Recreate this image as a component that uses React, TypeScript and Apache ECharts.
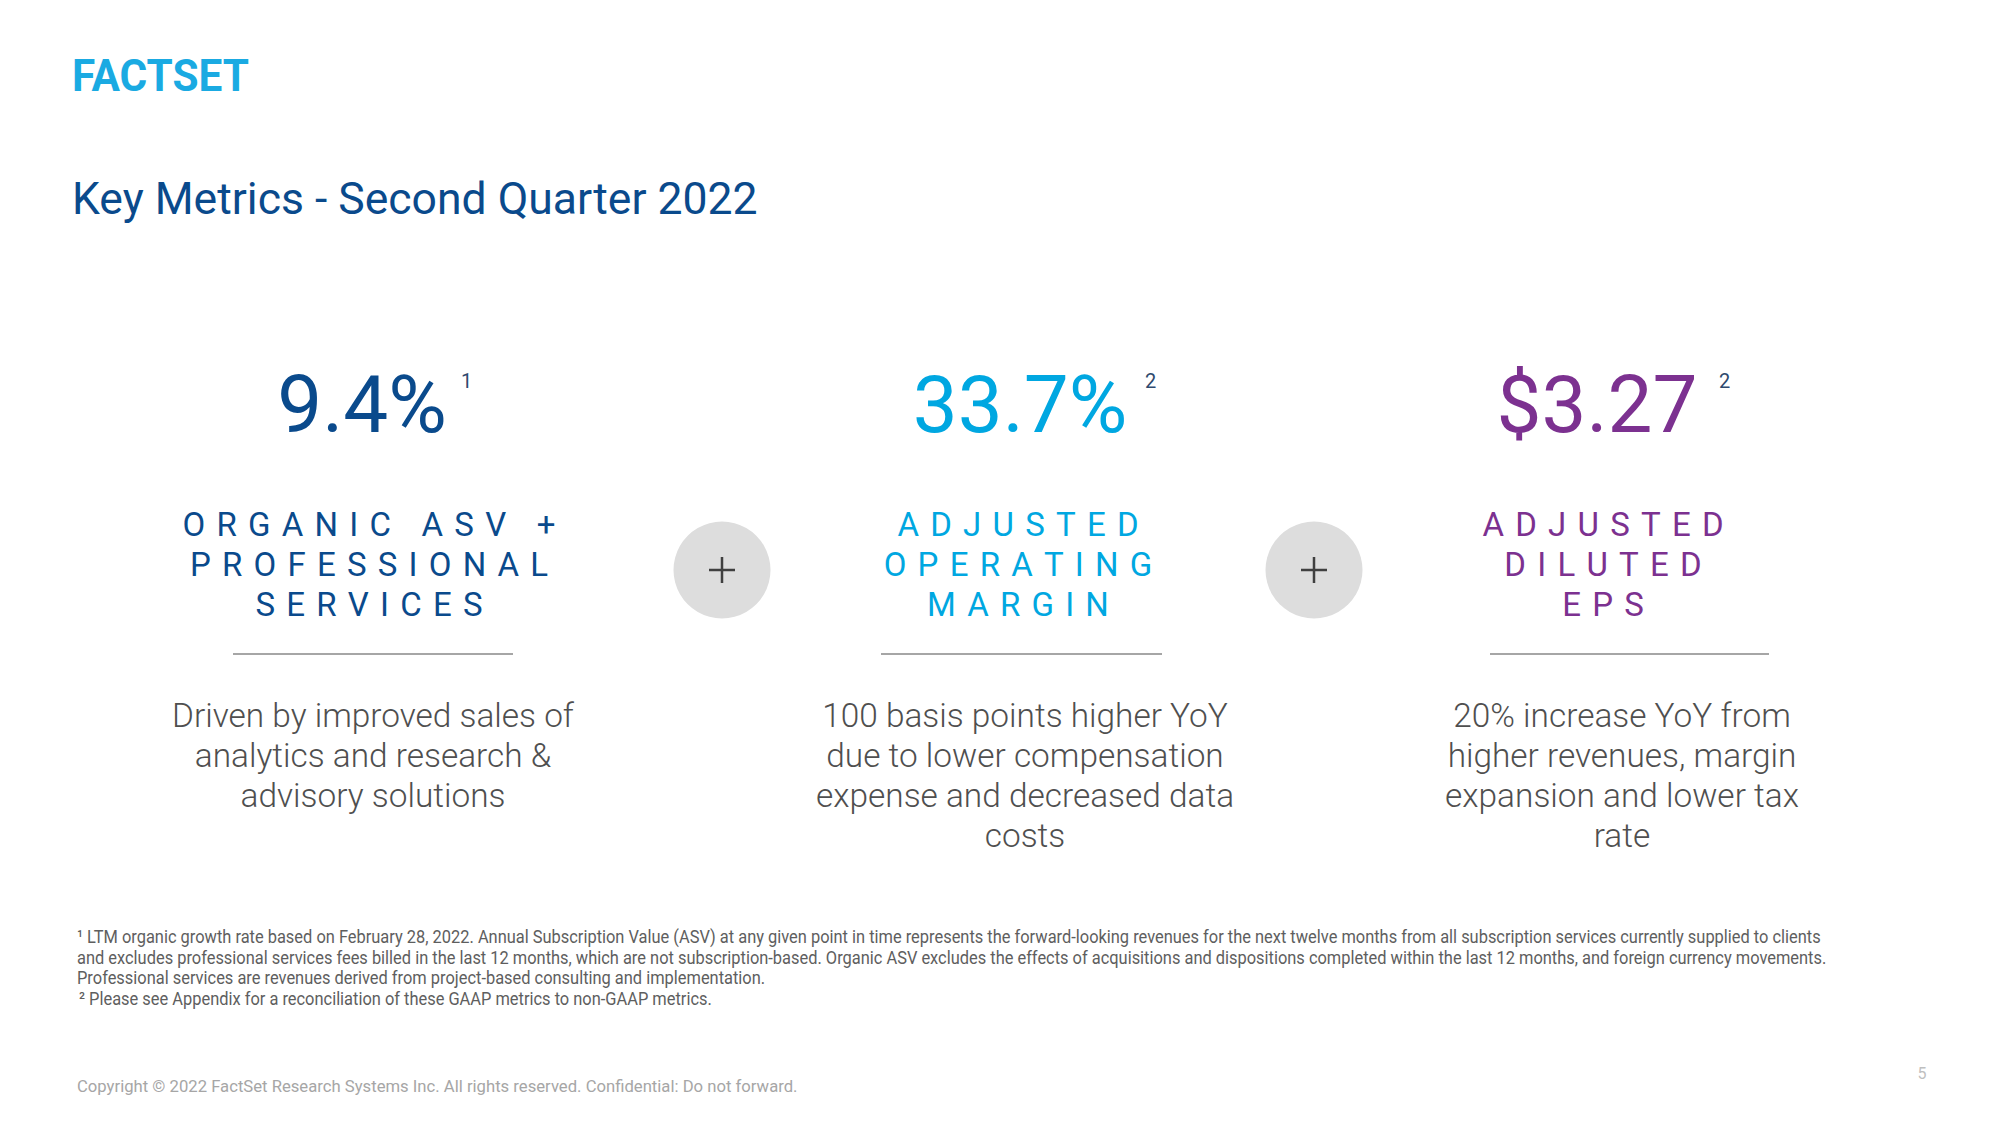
import React, { useEffect, useRef } from 'react';
import * as echarts from 'echarts';

// ---------- content ----------
const logoText = 'FACTSET';
const slideTitle = 'Key Metrics - Second Quarter 2022';
const metricValues = ['9.4%', '33.7%', '$3.27'];
const metricNotes = ['1', '2', '2'];
const metricHeadings = [
  ['ORGANIC ASV +', 'PROFESSIONAL', 'SERVICES'],
  ['ADJUSTED', 'OPERATING', 'MARGIN'],
  ['ADJUSTED', 'DILUTED', 'EPS'],
];
const metricDescriptions = [
  ['Driven by improved sales of', 'analytics and research &', 'advisory solutions'],
  ['100 basis points higher YoY', 'due to lower compensation', 'expense and decreased data', 'costs'],
  ['20% increase YoY from', 'higher revenues, margin', 'expansion and lower tax', 'rate'],
];
const footnoteLines = [
  '¹ LTM organic growth rate based on February 28, 2022. Annual Subscription Value (ASV) at any given point in time represents the forward-looking revenues for the next twelve months from all subscription services currently supplied to clients',
  'and excludes professional services fees billed in the last 12 months, which are not subscription-based. Organic ASV excludes the effects of acquisitions and dispositions completed within the last 12 months, and foreign currency movements.',
  'Professional services are revenues derived from project-based consulting and implementation.',
  '² Please see Appendix for a reconciliation of these GAAP metrics to non-GAAP metrics.',
];
const copyrightText = 'Copyright © 2022 FactSet Research Systems Inc. All rights reserved. Confidential: Do not forward.';
const pageNumber = '5';

// ---------- style ----------
const metricColors = ['#0A4A8C', '#00A7E1', '#7C3190'];
const FONT = 'Roboto, "Noto Sans", sans-serif';

let measureCtx: CanvasRenderingContext2D | null = null;
function measure(text: string, font: string): number {
  if (!measureCtx) measureCtx = document.createElement('canvas').getContext('2d');
  if (!measureCtx) return 1;
  measureCtx.font = font;
  return measureCtx.measureText(text).width || 1;
}

function spaced(s: string): string {
  return s.split('').join('\u2004');
}

function txt(
  text: string,
  x: number,
  y: number,
  size: number,
  color: string,
  align: string,
  weight: string | number = 'normal',
  scaleX = 1
) {
  return {
    type: 'text',
    x,
    y,
    scaleX,
    silent: true,
    style: {
      text,
      fill: color,
      fontSize: size,
      fontFamily: FONT,
      fontWeight: weight,
      align,
      textAlign: align,
      verticalAlign: 'middle',
      textVerticalAlign: 'middle',
    },
  };
}

function buildOption() {
  const els: any[] = [];

  // logo
  const logoSize = 45;
  const logoScale = 177 / measure(logoText, `bold ${logoSize}px Roboto`);
  els.push(txt(logoText, 72, 76, logoSize, '#1AAAE2', 'left', 'bold', logoScale));

  // title
  els.push(txt(slideTitle, 72, 199, 44.5, '#0A4A8C', 'left'));

  const numberCenters = [362, 1020, 1597];
  const noteX = [461, 1145, 1719];
  const headingCenters = [369, 1018, 1603];
  const descCenters = [373, 1025, 1622];
  const lineSpans = [
    [233, 513],
    [881, 1162],
    [1490, 1769],
  ];

  metricValues.forEach((v, i) => {
    els.push(txt(v, numberCenters[i], 405, 80, metricColors[i], 'center'));
    els.push(txt(metricNotes[i], noteX[i], 381, 20, '#2F4A6E', 'left'));
    metricHeadings[i].forEach((h, j) => {
      els.push(txt(spaced(h), headingCenters[i], 524 + j * 40, 33, metricColors[i], 'center'));
    });
    els.push({
      type: 'line',
      silent: true,
      shape: { x1: lineSpans[i][0], y1: 654, x2: lineSpans[i][1], y2: 654 },
      style: { stroke: '#A6A6A6', lineWidth: 2 },
    });
    metricDescriptions[i].forEach((d, j) => {
      els.push(txt(d, descCenters[i], 715 + j * 40, 33.4, '#4F4F4F', 'center', 300));
    });
  });

  // plus circles
  [722, 1314].forEach((cx) => {
    els.push({
      type: 'circle',
      silent: true,
      shape: { cx, cy: 570, r: 48.5 },
      style: { fill: '#DDDDDD' },
    });
    els.push({
      type: 'line',
      silent: true,
      shape: { x1: cx - 13, y1: 570, x2: cx + 13, y2: 570 },
      style: { stroke: '#3F3F3F', lineWidth: 2.5 },
    });
    els.push({
      type: 'line',
      silent: true,
      shape: { x1: cx, y1: 557, x2: cx, y2: 583 },
      style: { stroke: '#3F3F3F', lineWidth: 2.5 },
    });
  });

  // footnotes
  const fnSize = 18;
  const fnScale = (1822 - 77) / measure(footnoteLines[0], `${fnSize}px Roboto`);
  const fnY = [937, 957.5, 978, 998.5];
  const fnX = [77, 77, 77, 79];
  footnoteLines.forEach((l, j) => {
    els.push(txt(l, fnX[j], fnY[j], fnSize, '#5E5E5E', 'left', 'normal', fnScale));
  });

  // copyright
  const cpSize = 17;
  const cpScale = (798 - 77) / measure(copyrightText, `${cpSize}px Roboto`);
  els.push(txt(copyrightText, 77, 1086, cpSize, '#A6A6A6', 'left', 'normal', cpScale));

  // page number
  els.push(txt(pageNumber, 1922, 1073, 16, '#BFBFBF', 'center'));

  return {
    animation: false,
    backgroundColor: '#FFFFFF',
    graphic: { elements: els },
  };
}

export default function App() {
  const ref = useRef<HTMLDivElement>(null);
  useEffect(() => {
    if (!ref.current) return;
    const chart = echarts.init(ref.current, null, { renderer: 'svg', width: 2000, height: 1125 });
    chart.setOption(buildOption() as any);
    return () => chart.dispose();
  }, []);
  return (
    <div
      ref={ref}
      style={{ position: 'absolute', left: 0, top: 0, width: 2000, height: 1125, background: '#FFFFFF' }}
    />
  );
}
